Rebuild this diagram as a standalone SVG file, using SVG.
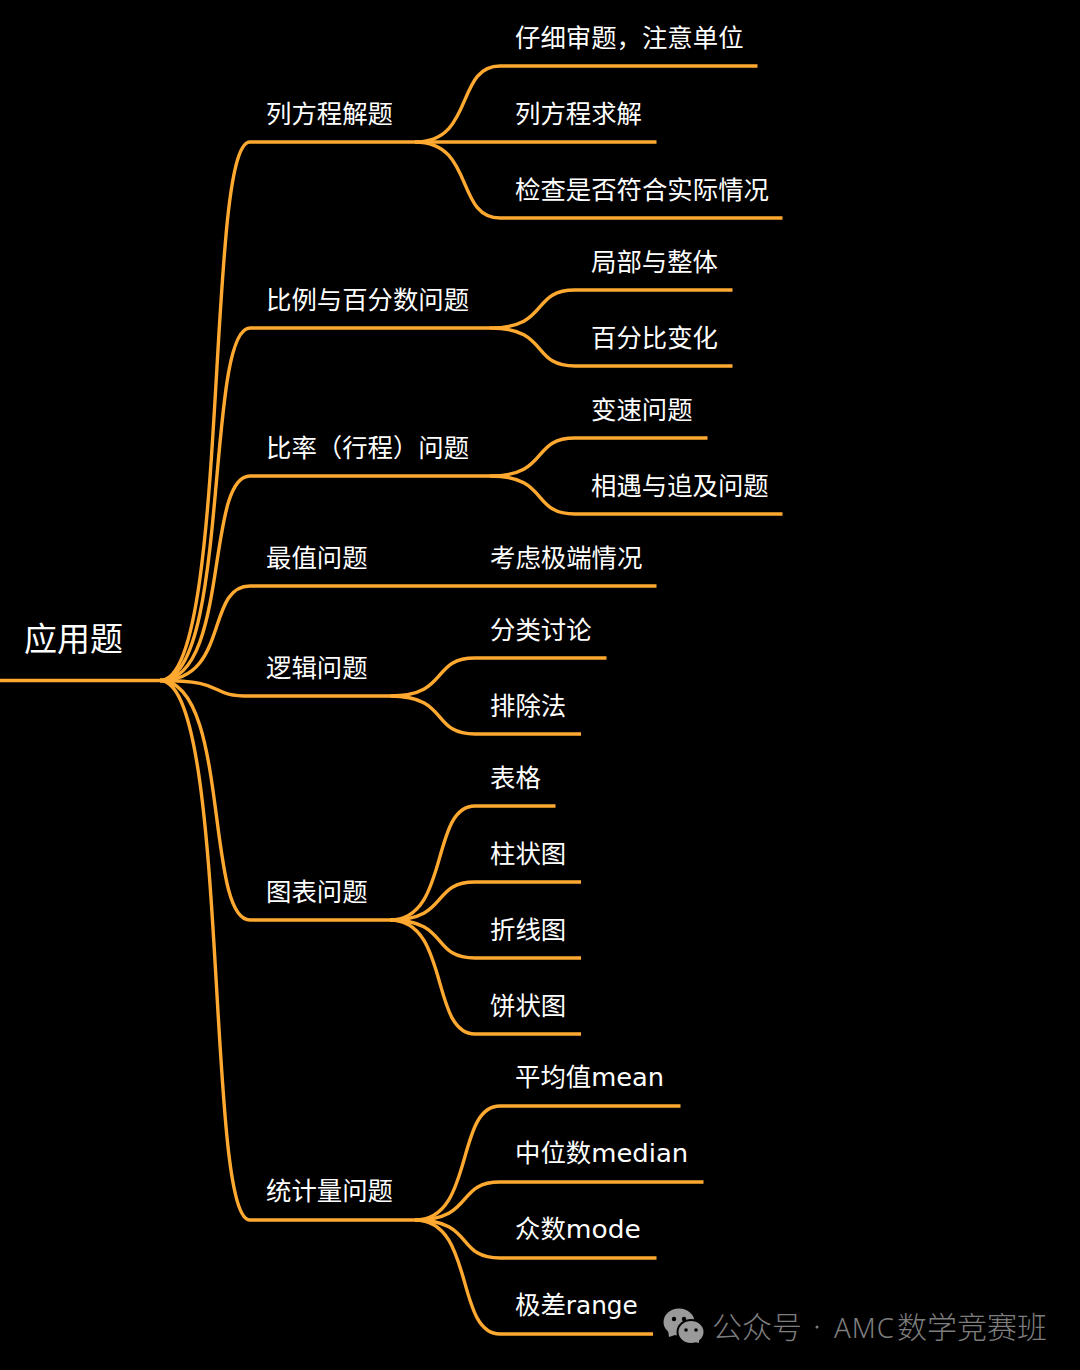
<svg xmlns="http://www.w3.org/2000/svg" width="1080" height="1370" viewBox="0 0 1080 1370">
<style>
text{font-family:"Noto Sans CJK SC","Noto Sans",sans-serif;fill:#fff;font-size:25.4px}
.r{font-size:33px}
.l{font-family:"DejaVu Sans","Noto Sans",sans-serif;font-size:25px}
.c{fill:none;stroke:#ffa930;stroke-width:3.400;stroke-linecap:butt}
.w{fill:#7d7d7d;font-size:30px}
.a{font-family:"Noto Sans",sans-serif;font-size:27.500px;fill:#7d7d7d;letter-spacing:1px}
</style>
<rect width="1080" height="1370" fill="#000"/>
<g id="connectors">
<path class="c" d="M0 680.500H160"/>
<path class="c" d="M160 680.500C230 680.500 205 142 250 142H415"/>
<path class="c" d="M160 680.500C230 680.500 205 328 250 328H490"/>
<path class="c" d="M160 680.500C230 680.500 205 476 250 476H490"/>
<path class="c" d="M160 680.500C230 680.500 205 586 250 586H656.500"/>
<path class="c" d="M160 680.500C230 680.500 205 696 250 696H390"/>
<path class="c" d="M160 680.500C230 680.500 205 920 250 920H390"/>
<path class="c" d="M160 680.500C230 680.500 205 1220 250 1220H415"/>
<path class="c" d="M415 142C475 142 455 66 500 66H757.500"/>
<path class="c" d="M415 142H656.500"/>
<path class="c" d="M415 142C475 142 455 218 500 218H782.500"/>
<path class="c" d="M490 328C550 328 530 290 575 290H732.500"/>
<path class="c" d="M490 328C550 328 530 366 575 366H732.500"/>
<path class="c" d="M490 476C550 476 530 438 575 438H707.500"/>
<path class="c" d="M490 476C550 476 530 514 575 514H782.500"/>
<path class="c" d="M390 696C450 696 430 658 475 658H606.500"/>
<path class="c" d="M390 696C450 696 430 734 475 734H581"/>
<path class="c" d="M390 920C450 920 430 806 475 806H555.500"/>
<path class="c" d="M390 920C450 920 430 882 475 882H581"/>
<path class="c" d="M390 920C450 920 430 958 475 958H581"/>
<path class="c" d="M390 920C450 920 430 1034 475 1034H581"/>
<path class="c" d="M415 1220C475 1220 455 1106 500 1106H680.500"/>
<path class="c" d="M415 1220C475 1220 455 1182 500 1182H703.500"/>
<path class="c" d="M415 1220C475 1220 455 1258 500 1258H656.500"/>
<path class="c" d="M415 1220C475 1220 455 1334 500 1334H653"/>
</g>
<g id="root"><text class="r" x="24" y="651">应用题</text></g>
<g id="n1"><text x="266" y="123">列方程解题</text></g>
<g id="n1a"><text x="515" y="47">仔细审题，注意单位</text></g>
<g id="n1b"><text x="515" y="123">列方程求解</text></g>
<g id="n1c"><text x="515" y="199">检查是否符合实际情况</text></g>
<g id="n2"><text x="266" y="309">比例与百分数问题</text></g>
<g id="n2a"><text x="591" y="271">局部与整体</text></g>
<g id="n2b"><text x="591" y="347">百分比变化</text></g>
<g id="n3"><text x="266" y="457">比率（行程）问题</text></g>
<g id="n3a"><text x="591" y="419">变速问题</text></g>
<g id="n3b"><text x="591" y="495">相遇与追及问题</text></g>
<g id="n4"><text x="266" y="567">最值问题</text></g>
<g id="n4a"><text x="490" y="567">考虑极端情况</text></g>
<g id="n5"><text x="266" y="677">逻辑问题</text></g>
<g id="n5a"><text x="490" y="639">分类讨论</text></g>
<g id="n5b"><text x="490" y="715">排除法</text></g>
<g id="n6"><text x="266" y="901">图表问题</text></g>
<g id="n6a"><text x="490" y="787">表格</text></g>
<g id="n6b"><text x="490" y="863">柱状图</text></g>
<g id="n6c"><text x="490" y="939">折线图</text></g>
<g id="n6d"><text x="490" y="1015">饼状图</text></g>
<g id="n7"><text x="266" y="1200">统计量问题</text></g>
<g id="n7a"><text x="515" y="1086">平均值<tspan class="l" textLength="73" lengthAdjust="spacingAndGlyphs">mean</tspan></text></g>
<g id="n7b"><text x="515" y="1162">中位数<tspan class="l" textLength="97" lengthAdjust="spacingAndGlyphs">median</tspan></text></g>
<g id="n7c"><text x="515" y="1238">众数<tspan class="l" textLength="75" lengthAdjust="spacingAndGlyphs">mode</tspan></text></g>
<g id="n7d"><text x="515" y="1314">极差<tspan class="l" textLength="72" lengthAdjust="spacingAndGlyphs">range</tspan></text></g>
<g id="watermark">
<ellipse cx="679" cy="1322" rx="15.500" ry="13.500" fill="#9a9a9a"/>
<path d="M668 1330L669 1337L678 1334Z" fill="#9a9a9a"/>
<ellipse cx="691" cy="1332" rx="13.500" ry="12" stroke="#000" stroke-width="2" fill="#9a9a9a"/>
<path d="M695 1342L699 1343L699 1338Z" fill="#9a9a9a"/>
<circle cx="674" cy="1319" r="2.200" fill="#000"/><circle cx="684" cy="1319" r="2.200" fill="#000"/>
<circle cx="686" cy="1330" r="1.800" fill="#000"/><circle cx="696" cy="1330" r="1.800" fill="#000"/>
<text class="w" x="712" y="1338" font-weight="300">公众号</text>
<circle cx="817" cy="1327" r="1.500" fill="#7d7d7d"/>
<text class="a" x="834" y="1338" font-weight="300">AMC</text>
<text class="w" x="897" y="1338" font-weight="300">数学竞赛班</text>
</g>
</svg>
